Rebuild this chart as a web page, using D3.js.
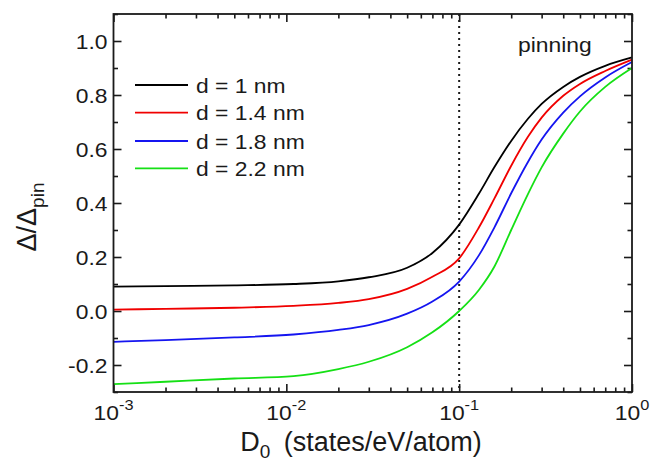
<!DOCTYPE html>
<html>
<head>
<meta charset="utf-8">
<script src="https://cdn.jsdelivr.net/npm/d3@7"></script>
<style>
  html, body { margin: 0; padding: 0; background: #fff; }
  svg { display: block; }
  text { font-family: "Liberation Sans", Arial, Helvetica, sans-serif; fill: #1a1a1a; }
</style>
</head>
<body>
<svg id="chart" width="653" height="461"></svg>
<script>
// Density of states at the Fermi level, D0 (states/eV/atom)
const dGrid = [0.001, 0.002, 0.005, 0.011, 0.02, 0.03, 0.05, 0.07, 0.1, 0.13, 0.16, 0.2, 0.25, 0.3, 0.4, 0.5, 0.7, 1.0];

// Normalised gap Δ/Δpin for each layer thickness d
const gap1nm  = [0.090, 0.092, 0.095, 0.100, 0.110, 0.125, 0.160, 0.215, 0.320, 0.434, 0.533, 0.630, 0.712, 0.767, 0.830, 0.867, 0.908, 0.939];
const gap14nm = [0.005, 0.008, 0.012, 0.019, 0.030, 0.044, 0.082, 0.127, 0.195, 0.309, 0.417, 0.538, 0.645, 0.716, 0.797, 0.841, 0.889, 0.931];
const gap18nm = [-0.114, -0.108, -0.098, -0.087, -0.070, -0.052, -0.010, 0.035, 0.109, 0.206, 0.310, 0.436, 0.552, 0.635, 0.735, 0.795, 0.865, 0.922];
const gap22nm = [-0.271, -0.262, -0.250, -0.241, -0.215, -0.188, -0.134, -0.079, 0.000, 0.078, 0.165, 0.300, 0.433, 0.532, 0.657, 0.739, 0.830, 0.900];

const seriesLabels = ["d = 1 nm", "d = 1.4 nm", "d = 1.8 nm", "d = 2.2 nm"];
const seriesColors = ["#000000", "#f00000", "#1515f0", "#15e015"];
const seriesValues = [gap1nm, gap14nm, gap18nm, gap22nm];

const xMajorTicks = [0.001, 0.01, 0.1, 1];
const xTickExponents = ["-3", "-2", "-1", "0"];
const yMajorTicks = [-0.2, 0.0, 0.2, 0.4, 0.6, 0.8, 1.0];
const yTickLabels = ["-0.2", "0.0", "0.2", "0.4", "0.6", "0.8", "1.0"];
const yMinorTicks = [-0.3, -0.1, 0.1, 0.3, 0.5, 0.7, 0.9, 1.1];
const pinningD = 0.1;

const svg = d3.select("#chart");
const plotLeft = 113.5, plotRight = 632, plotTop = 14, plotBottom = 392;
const textStretch = 1.09;   // slightly wide lettering

const x = d3.scaleLog().domain([1e-3, 1]).range([plotLeft, plotRight]);
const y = d3.scaleLinear().domain([-0.3, 1.1]).range([plotBottom, plotTop]);

const xMinorTicks = [];
for (let e = -3; e < 0; e++) for (let m = 2; m <= 9; m++) xMinorTicks.push(m * Math.pow(10, e));

const majorLen = 8, minorLen = 4.5;

function styleAxis(g) {
  g.select(".domain").remove();
  g.selectAll(".tick line").attr("stroke", "#1a1a1a").attr("stroke-width", 1.6);
  g.selectAll(".tick text").remove();
}

// inward ticks on all four sides
const axesSpec = [
  [d3.axisBottom, x, xMajorTicks, majorLen, plotBottom, "x"],
  [d3.axisBottom, x, xMinorTicks, minorLen, plotBottom, "x"],
  [d3.axisTop, x, xMajorTicks, majorLen, plotTop, "x"],
  [d3.axisTop, x, xMinorTicks, minorLen, plotTop, "x"],
  [d3.axisLeft, y, yMajorTicks, majorLen, plotLeft, "y"],
  [d3.axisLeft, y, yMinorTicks, minorLen, plotLeft, "y"],
  [d3.axisRight, y, yMajorTicks, majorLen, plotRight, "y"],
  [d3.axisRight, y, yMinorTicks, minorLen, plotRight, "y"]
];
axesSpec.forEach(([fn, sc, vals, len, pos, dir]) => {
  const g = svg.append("g")
    .attr("transform", dir === "x" ? `translate(0,${pos})` : `translate(${pos},0)`)
    .call(fn(sc).tickValues(vals).tickSize(-len).tickFormat(""));
  styleAxis(g);
});

// dotted marker at the pinning threshold
svg.append("line")
  .attr("x1", x(pinningD)).attr("x2", x(pinningD))
  .attr("y1", plotTop).attr("y2", plotBottom)
  .attr("stroke", "#1a1a1a").attr("stroke-width", 2)
  .attr("stroke-dasharray", "2,4");

// curves
const line = d3.line()
  .x((d, i) => x(dGrid[i]))
  .y(d => y(d))
  .curve(d3.curveMonotoneX);

const plot = svg.append("g");
seriesValues.forEach((vals, k) => {
  plot.append("path")
    .attr("d", line(vals))
    .attr("fill", "none")
    .attr("stroke", seriesColors[k])
    .attr("stroke-width", 1.8);
});

// frame
svg.append("rect")
  .attr("x", plotLeft).attr("y", plotTop)
  .attr("width", plotRight - plotLeft).attr("height", plotBottom - plotTop)
  .attr("fill", "none").attr("stroke", "#1a1a1a").attr("stroke-width", 1.8);

const placed = (px, py) => `translate(${px},${py}) scale(${textStretch},1)`;

// y tick labels
svg.append("g").selectAll("text")
  .data(yMajorTicks)
  .join("text")
  .attr("transform", d => placed(plotLeft - 6, y(d)))
  .attr("dy", "0.36em")
  .attr("text-anchor", "end")
  .attr("font-size", 21)
  .text((d, i) => yTickLabels[i]);

// x tick labels: powers of ten
const xl = svg.append("g").selectAll("text")
  .data(xMajorTicks)
  .join("text")
  .attr("transform", d => placed(x(d), plotBottom + 28))
  .attr("text-anchor", "middle")
  .attr("font-size", 21);
xl.append("tspan").text("10");
xl.append("tspan")
  .attr("font-size", 15)
  .attr("dy", -10)
  .text((d, i) => xTickExponents[i]);

// axis titles
const xt = svg.append("text")
  .attr("x", 361)
  .attr("y", 451)
  .attr("text-anchor", "middle")
  .attr("font-size", 27);
xt.append("tspan").text("D");
xt.append("tspan").attr("font-size", 19).attr("dy", 7).text("0");
xt.append("tspan").attr("dy", -7).text("\u2002(states/eV/atom)");

const yt = svg.append("text")
  .attr("transform", `translate(36,${217}) rotate(-90)`)
  .attr("text-anchor", "middle")
  .attr("font-size", 27);
yt.append("tspan").text("\u0394/\u0394");
yt.append("tspan").attr("font-size", 19).attr("dy", 8).text("pin");

// legend
const legend = svg.append("g");
const legendY = [85, 112.7, 141, 168.3];
seriesLabels.forEach((lab, k) => {
  legend.append("line")
    .attr("x1", 135).attr("x2", 188)
    .attr("y1", legendY[k]).attr("y2", legendY[k])
    .attr("stroke", seriesColors[k]).attr("stroke-width", 1.8);
  legend.append("text")
    .attr("transform", placed(196, legendY[k]))
    .attr("dy", "0.36em")
    .attr("font-size", 21)
    .text(lab);
});

svg.append("text")
  .attr("transform", placed(518, 52))
  .attr("font-size", 21)
  .text("pinning");
</script>
</body>
</html>
